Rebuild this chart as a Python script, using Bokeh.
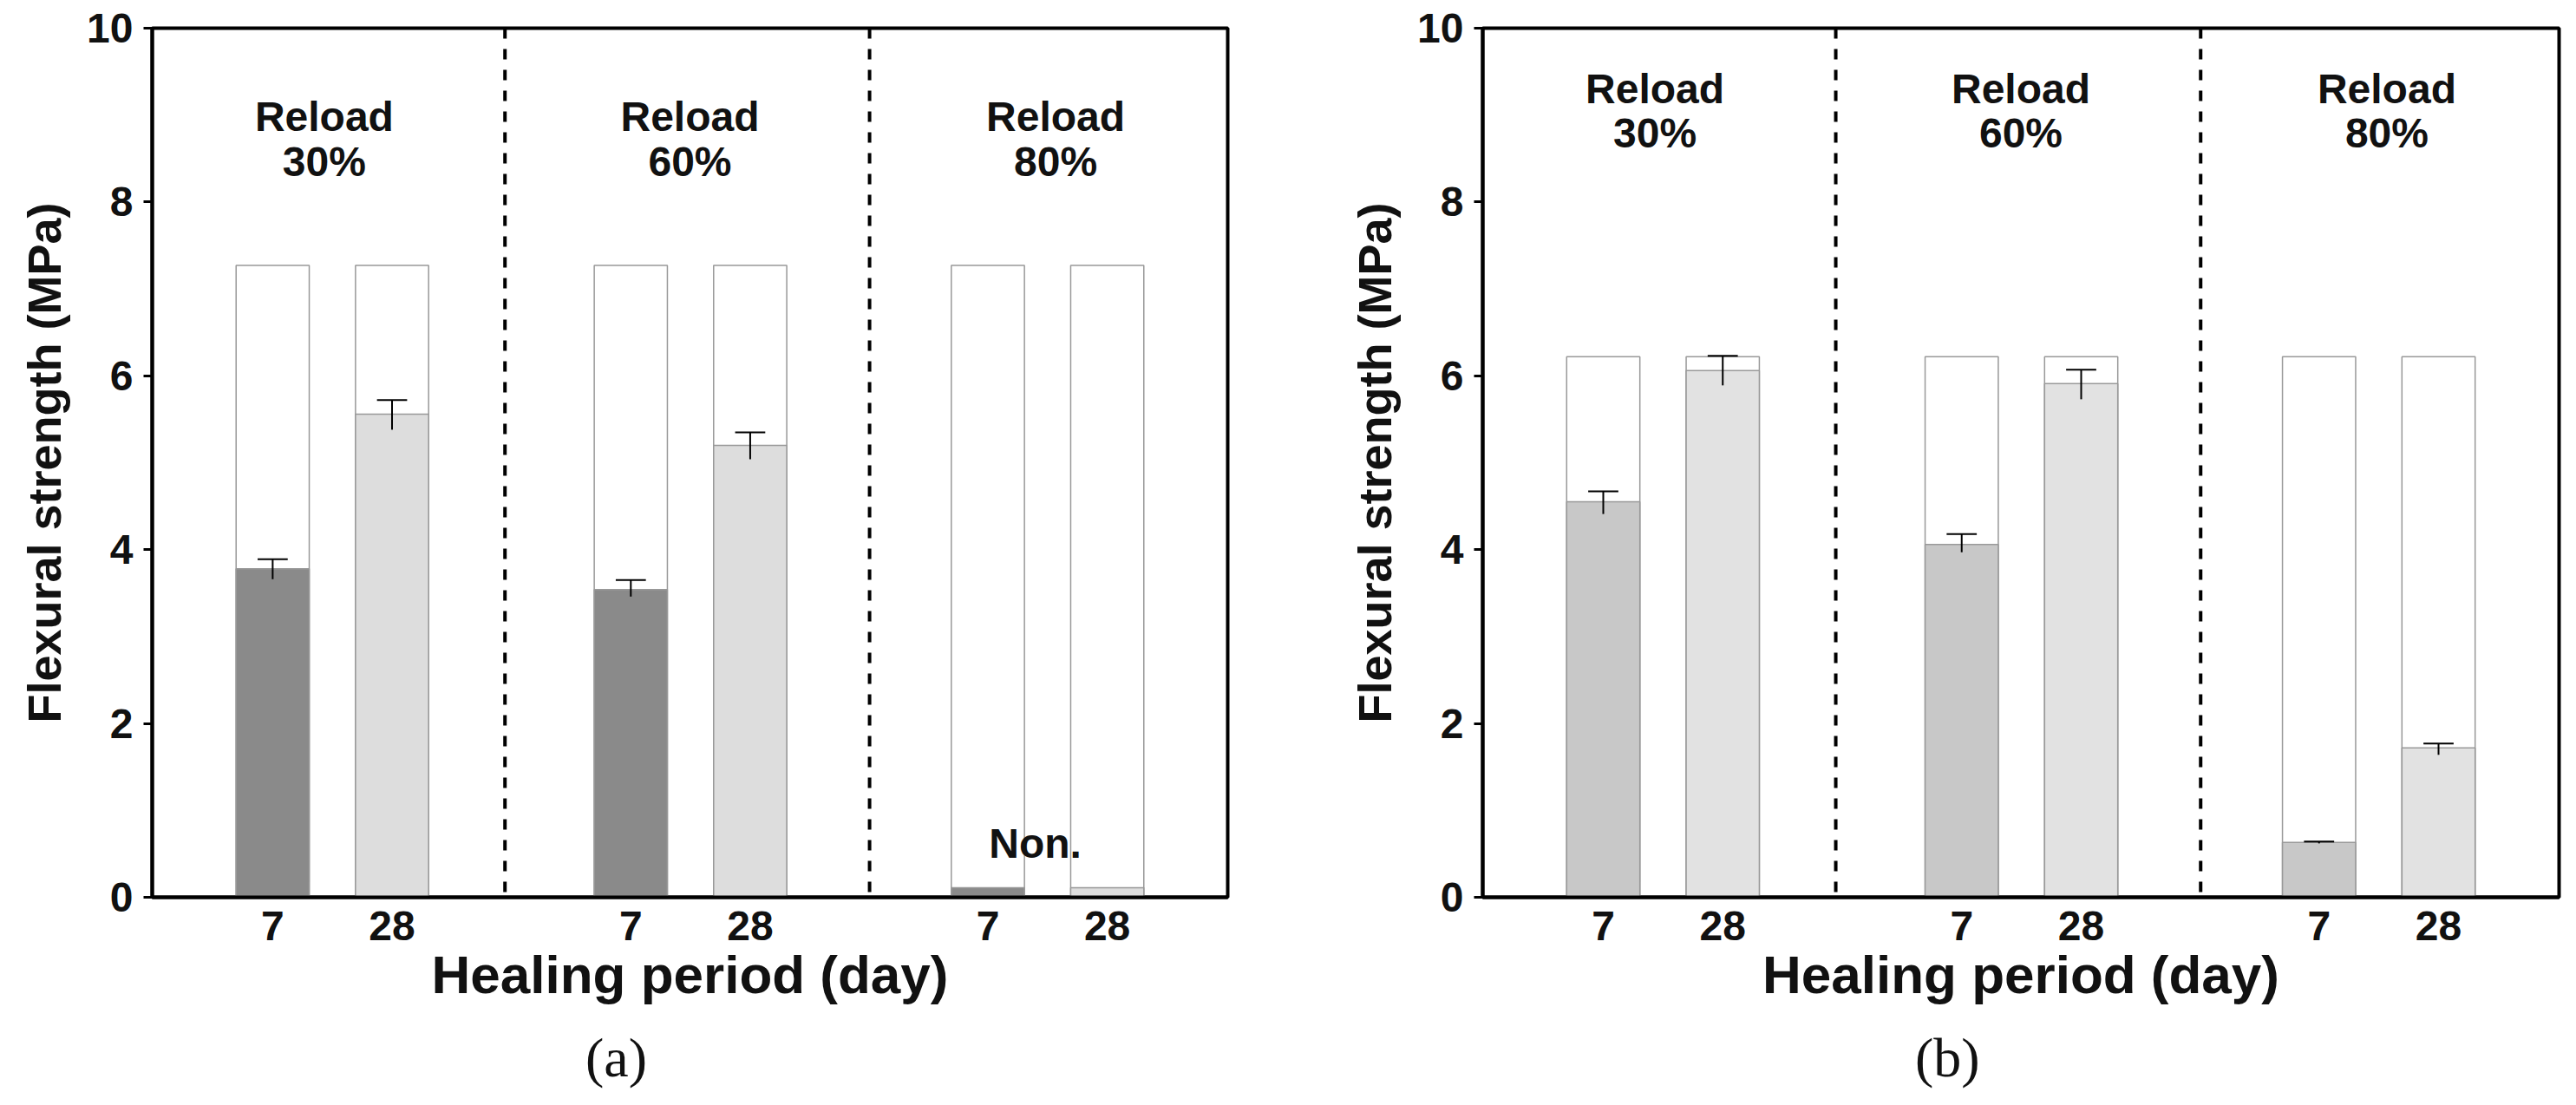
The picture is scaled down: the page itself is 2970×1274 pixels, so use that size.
from bokeh.plotting import figure
from bokeh.models import FixedTicker, Span, Div
from bokeh.layouts import row, column
from bokeh.core.properties import value
from bokeh.embed import file_html
from bokeh.resources import INLINE

# ---- data ----
positions = [1.12, 2.23, 4.45, 5.56, 7.77, 8.88]
tick_labels = ["7", "28", "7", "28", "7", "28"]
separators = [3.28, 6.67]
group_x = [1.6, 5.0, 8.4]
group_pct = ["30%", "60%", "80%"]

a_total = [7.27] * 6
a_vals = [3.78, 5.56, 3.54, 5.20, 0.11, 0.11]
a_upper = [3.89, 5.72, 3.65, 5.35, None, None]
a_lower = [3.66, 5.38, 3.46, 5.04, None, None]

b_total = [6.22] * 6
b_vals = [4.55, 6.06, 4.06, 5.91, 0.63, 1.72]
b_upper = [4.67, 6.23, 4.18, 6.07, 0.64, 1.77]
b_lower = [4.41, 5.89, 3.97, 5.73, 0.62, 1.64]

FONT = "Liberation Sans"


def make(total, vals, upper, lower, colors, text_y, width, left, right, non=False):
    p = figure(width=width, height=1180, x_range=(0, 10), y_range=(0, 10),
               output_backend="svg", toolbar_location=None,
               min_border_left=left, min_border_right=right,
               min_border_top=32, min_border_bottom=146)
    p.grid.visible = False
    p.outline_line_color = "black"
    p.outline_line_width = 4
    bw = 0.68
    p.vbar(x=positions, top=total, width=bw, fill_color="white",
           line_color="#999999", line_width=1.5)
    p.vbar(x=positions, top=vals, width=bw, fill_color=colors,
           line_color="#999999", line_width=1.5)
    ex, ey0, ey1, cx0, cx1 = [], [], [], [], []
    for x, u, l in zip(positions, upper, lower):
        if u is None:
            continue
        ex.append(x); ey0.append(l); ey1.append(u)
        cx0.append(x - 0.14); cx1.append(x + 0.14)
    p.segment(x0=ex, y0=ey0, x1=ex, y1=ey1, line_color="black", line_width=2)
    p.segment(x0=cx0, y0=ey1, x1=cx1, y1=ey1, line_color="black", line_width=2)
    for s in separators:
        p.add_layout(Span(location=s, dimension="height", line_color="black",
                          line_width=4, line_dash="12 12"))
    p.text(x=group_x, y=[text_y[0]] * 3, text=["Reload"] * 3, text_align="center",
           text_baseline="middle", text_font=value(FONT), text_font_style="bold",
           text_font_size="48px", text_color="#111111")
    p.text(x=group_x, y=[text_y[1]] * 3, text=group_pct, text_align="center",
           text_baseline="middle", text_font=value(FONT), text_font_style="bold",
           text_font_size="48px", text_color="#111111")
    if non:
        p.text(x=[8.21], y=[0.62], text=["Non."], text_align="center",
               text_baseline="middle", text_font=value(FONT), text_font_style="bold",
               text_font_size="48px", text_color="#111111")
    p.xaxis.ticker = FixedTicker(ticks=positions)
    p.xaxis.major_label_overrides = {x: t for x, t in zip(positions, tick_labels)}
    p.xaxis.major_tick_line_color = None
    p.xaxis.minor_tick_line_color = None
    p.yaxis.ticker = FixedTicker(ticks=[0, 2, 4, 6, 8, 10])
    p.yaxis.minor_tick_line_color = None
    p.yaxis.major_tick_out = 10
    p.yaxis.major_tick_in = 0
    p.yaxis.major_tick_line_width = 3
    for ax in (p.xaxis, p.yaxis):
        ax.axis_line_width = 4
        ax.major_label_text_font = FONT
        ax.major_label_text_font_style = "bold"
        ax.major_label_text_font_size = "48px"
        ax.major_label_text_color = "#111111"
        ax.axis_label_text_font = FONT
        ax.axis_label_text_font_style = "bold"
        ax.axis_label_text_color = "#111111"
    p.xaxis.axis_label = "Healing period (day)"
    p.xaxis.axis_label_text_font_size = "62px"
    p.xaxis.major_label_standoff = 10
    p.xaxis.axis_label_standoff = 2
    p.yaxis.axis_label = "Flexural strength (MPa)"
    p.yaxis.axis_label_text_font_size = "54px"
    p.yaxis.major_label_standoff = 12
    p.yaxis.axis_label_standoff = 16
    return p


pa = make(a_total, a_vals, a_upper, a_lower,
          ["#8a8a8a", "#dddddd"] * 3, (8.98, 8.46), 1449, 175, 34, non=True)
pb = make(b_total, b_vals, b_upper, b_lower,
          ["#c8c8c8", "#e2e2e2"] * 3, (9.3, 8.79), 1505, 250, 14)


def cap(txt, w, center):
    return Div(text=txt, width=w, height=80,
               styles={"font-family": "Liberation Serif", "font-size": "64px",
                       "color": "#111111", "position": "relative",
                       "left": f"{center - 40}px", "line-height": "70px"})


layout = row(column(pa, cap("(a)", 1449, 710)), column(pb, cap("(b)", 1505, 784)))
open("out.html", "w").write(file_html(layout, INLINE))
